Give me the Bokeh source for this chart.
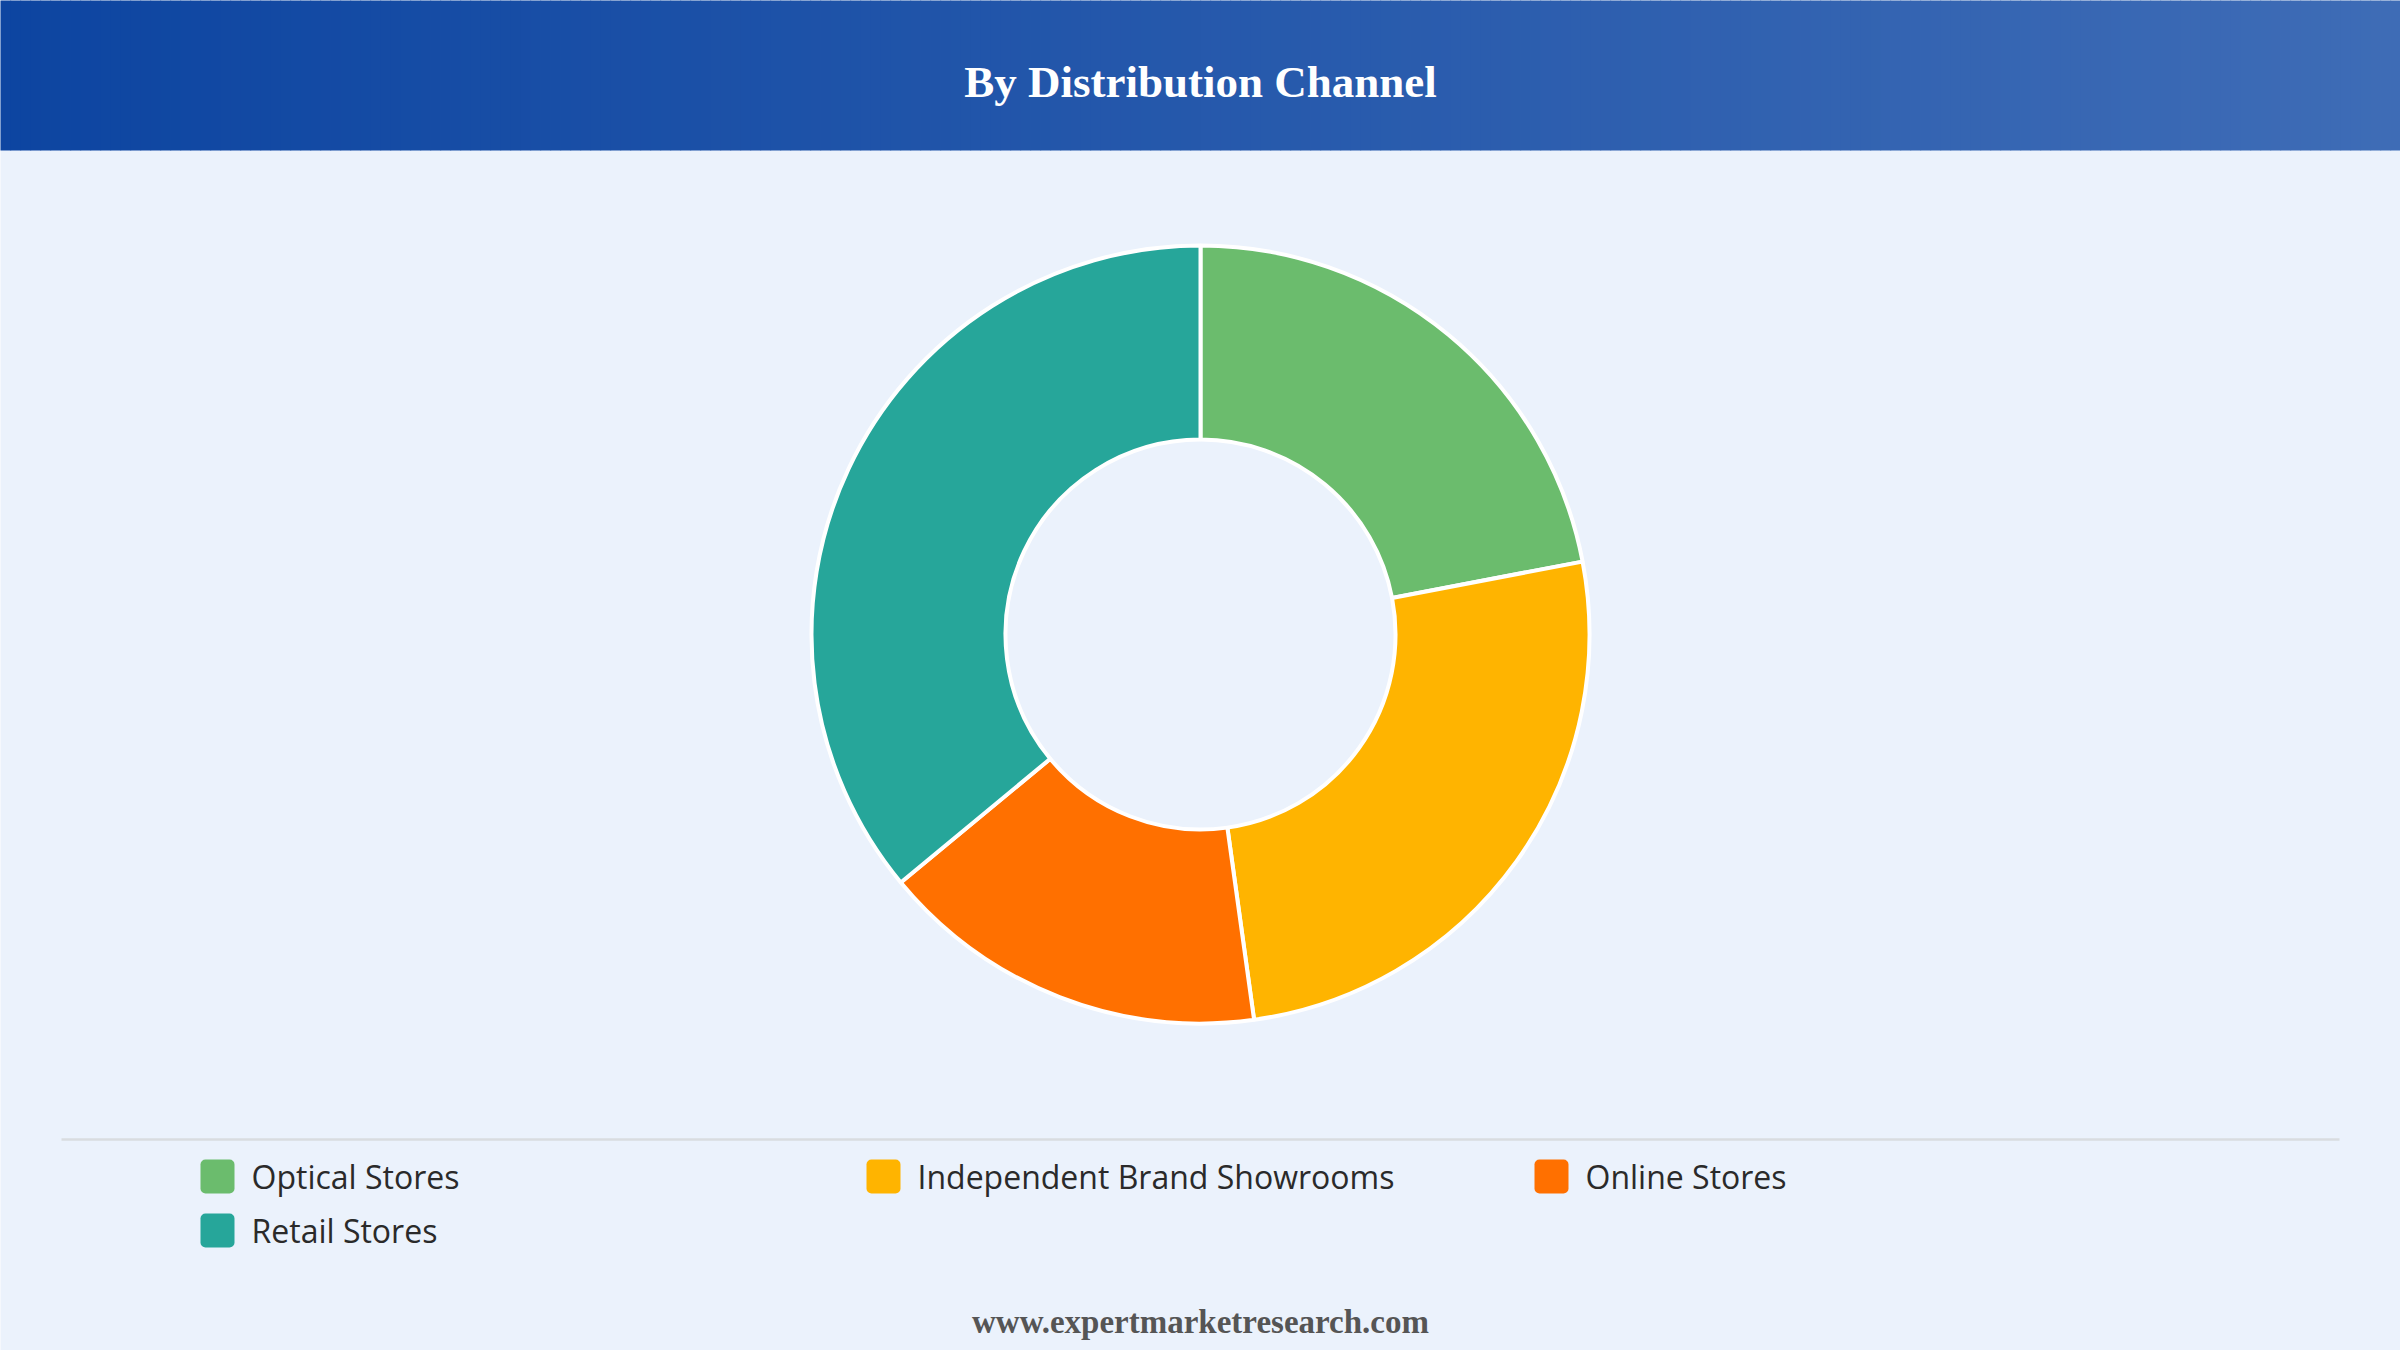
import numpy as np
from bokeh.plotting import figure
from bokeh.models import BoxAnnotation
from bokeh.core.properties import value
from bokeh.embed import file_html
from bokeh.resources import INLINE

# ---- data ----
title = "By Distribution Channel"
categories = ["Optical Stores", "Independent Brand Showrooms", "Online Stores", "Retail Stores"]
shares = [22.0, 25.8, 16.2, 36.0]
colors = ["#6BBC6D", "#FFB400", "#FF7000", "#26A69A"]
footer = "www.expertmarketresearch.com"

W, H = 2400, 1350
p = figure(width=W, height=H, x_range=(0, W), y_range=(0, H),
           output_backend="svg", toolbar_location=None, min_border=0)
p.axis.visible = False
p.grid.visible = False
p.outline_line_color = None
p.background_fill_color = "#EBF2FC"
p.border_fill_color = "#EBF2FC"

def Y(y):
    return H - y

# header gradient
n = 240
xs = np.linspace(0, W, n + 1)
c0 = np.array([0x0D, 0x45, 0xA1])
c1 = np.array([0x3E, 0x6C, 0xB6])
cols = []
for i in range(n):
    t = i / (n - 1)
    c = (c0 * (1 - t) + c1 * t).round().astype(int)
    cols.append("#%02x%02x%02x" % tuple(c))
lefts = xs[:-1].copy()
lefts[0] = -10
rights = xs[1:] + 0.6
rights[-1] = W + 10
p.quad(left=lefts, right=rights, bottom=Y(150), top=H + 10, fill_color=cols, line_color=None)

p.text(x=[W / 2], y=[Y(81)], text=[title], text_font=value("Liberation Serif"),
       text_font_style="bold", text_font_size="45px", text_color="white",
       text_align="center", text_baseline="middle")

# donut
cx, cy = 1200, Y(634)
frac = np.array(shares) / sum(shares)
cum = np.concatenate([[0], np.cumsum(frac)])
start = np.pi / 2 - cum[:-1] * 2 * np.pi
end = np.pi / 2 - cum[1:] * 2 * np.pi
p.annular_wedge(x=cx, y=cy, inner_radius=195, outer_radius=389,
                start_angle=start, end_angle=end, direction="clock",
                fill_color=colors, line_color="white", line_width=4)

# separator
p.segment(x0=[61], y0=[Y(1139)], x1=[2339], y1=[Y(1139)], line_color="#D9DCE0", line_width=2.5)

# legend
col_x = [200, 866, 1534, 200]
row_y = [1176, 1176, 1176, 1230]
sq = 34
for cat, c, lx, ly in zip(categories, colors, col_x, row_y):
    p.add_layout(BoxAnnotation(left=lx, right=lx + sq, bottom=Y(ly) - sq / 2, top=Y(ly) + sq / 2,
                               fill_color=c, fill_alpha=1, line_color=None, border_radius=5))
p.text(x=[x + sq + 17 for x in col_x], y=[Y(y) for y in row_y], text=categories,
       text_font=value("Open Sans"), text_font_size="32px", text_color="#2A2A2A",
       text_align="left", text_baseline="middle")

# footer
p.text(x=[W / 2], y=[Y(1321)], text=[footer], text_font=value("Liberation Serif"),
       text_font_style="bold", text_font_size="33px", text_color="#555555",
       text_align="center", text_baseline="middle")

open("out.html", "w").write(file_html(p, INLINE))
